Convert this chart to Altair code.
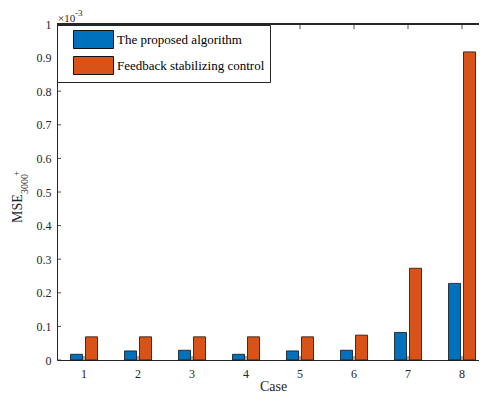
import altair as alt
import pandas as pd

cases = [1, 2, 3, 4, 5, 6, 7, 8]
series_names = ["The proposed algorithm", "Feedback stabilizing control"]
proposed = [0.017, 0.027, 0.029, 0.017, 0.027, 0.029, 0.082, 0.228]
feedback = [0.069, 0.069, 0.069, 0.069, 0.069, 0.074, 0.273, 0.917]
y_ticks = [0, 0.1, 0.2, 0.3, 0.4, 0.5, 0.6, 0.7, 0.8, 0.9, 1.0]
colors = ["#0072BD", "#D95319"]

W, H = 422, 336      # visible plot area (the right edge is cut off as in the reference)
XR = 432             # full band range for the 8 cases
FONT = "Liberation Serif"
INK = "#262626"

rows = []
for c, a, b in zip(cases, proposed, feedback):
    rows.append({"Case": c, "Series": series_names[0], "MSE": a})
    rows.append({"Case": c, "Series": series_names[1], "MSE": b})
df = pd.DataFrame(rows)
case_df = pd.DataFrame({"Case": cases})
ytick_df = pd.DataFrame({"v": y_ticks})

xscale = alt.Scale(domain=cases, range=[0, XR], paddingInner=0, paddingOuter=0)
yscale = alt.Scale(domain=[0, 1], nice=False, zero=True)

xaxis = alt.Axis(title="Case", labelAngle=0, ticks=False, labelPadding=8,
                 labelFont=FONT, titleFont=FONT,
                 labelFontSize=12, titleFontSize=14, titleFontWeight="normal",
                 titleBaseline="alphabetic", titleY=30,
                 domainColor=INK, labelColor=INK, titleColor=INK)
yaxis = alt.Axis(title=None, values=y_ticks, ticks=False, labelPadding=6,
                 labelFont=FONT, labelFontSize=12, domainColor=INK, labelColor=INK,
                 format=".1~f", labelOverlap=False)

bars = alt.Chart(df).mark_bar(stroke="#111111", strokeWidth=0.8).encode(
    x=alt.X("Case:O", scale=xscale, axis=xaxis),
    xOffset=alt.XOffset("Series:N", sort=series_names,
                        scale=alt.Scale(paddingInner=0.2, paddingOuter=0.9)),
    y=alt.Y("MSE:Q", scale=yscale, axis=yaxis),
    color=alt.Color("Series:N", sort=series_names,
                    scale=alt.Scale(domain=series_names, range=colors),
                    legend=alt.Legend(
                        title=None, orient="none", legendX=0, legendY=1,
                        symbolType="M-2.222,-1L2.222,-1L2.222,1L-2.222,1Z",
                        symbolSize=324, symbolStrokeColor="#111111",
                        symbolStrokeWidth=1, symbolOpacity=1,
                        labelFontSize=13, labelFont=FONT, labelColor="black",
                        labelLimit=400, labelOffset=14, symbolOffset=22,
                        padding=5, rowPadding=3, strokeColor=INK, fillColor="white")),
)

top_axis = alt.Chart(case_df).mark_rule(color=INK, strokeWidth=1).encode(
    x=alt.value(0), x2=alt.value(W), y=alt.value(0))

top_ticks = alt.Chart(case_df).mark_rule(color=INK, strokeWidth=0.8).encode(
    x=alt.X("Case:O", scale=xscale, axis=xaxis), y=alt.value(0), y2=alt.value(5))
bottom_ticks = alt.Chart(case_df).mark_rule(color=INK, strokeWidth=0.8).encode(
    x=alt.X("Case:O", scale=xscale, axis=xaxis), y=alt.value(H), y2=alt.value(H - 4))
left_ticks = alt.Chart(ytick_df).mark_rule(color=INK, strokeWidth=0.8).encode(
    y=alt.Y("v:Q", scale=yscale, axis=yaxis), x=alt.value(0), x2=alt.value(4))

def label(text, x, y, size, angle=0):
    return alt.Chart(pd.DataFrame({"t": [text]})).mark_text(
        font=FONT, fontSize=size, align="left", baseline="alphabetic",
        angle=angle, color=INK).encode(text="t:N", x=alt.value(x), y=alt.value(y))

exp_a = label("×10", 1, -2, 11)
exp_b = label("-3", 18, -8, 9)
yt_a = label("MSE", -35, 199, 14, angle=270)
yt_b = label("3000", -29, 170, 10, angle=270)
yt_c = label("+", -38, 152, 9, angle=270)

chart = alt.layer(
    bars, top_axis, top_ticks, bottom_ticks, left_ticks,
    exp_a, exp_b, yt_a, yt_b, yt_c
).properties(
    width=W, height=H,
    autosize=alt.AutoSizeParams(type="none"),
    padding={"left": 49, "top": 16, "right": 0, "bottom": 32},
).configure_view(stroke=None).configure(
    font=FONT
).configure_axis(labelFont=FONT, titleFont=FONT, grid=False, domainWidth=1)

chart.save("out.html", embed_options={"renderer": "svg", "actions": False})
